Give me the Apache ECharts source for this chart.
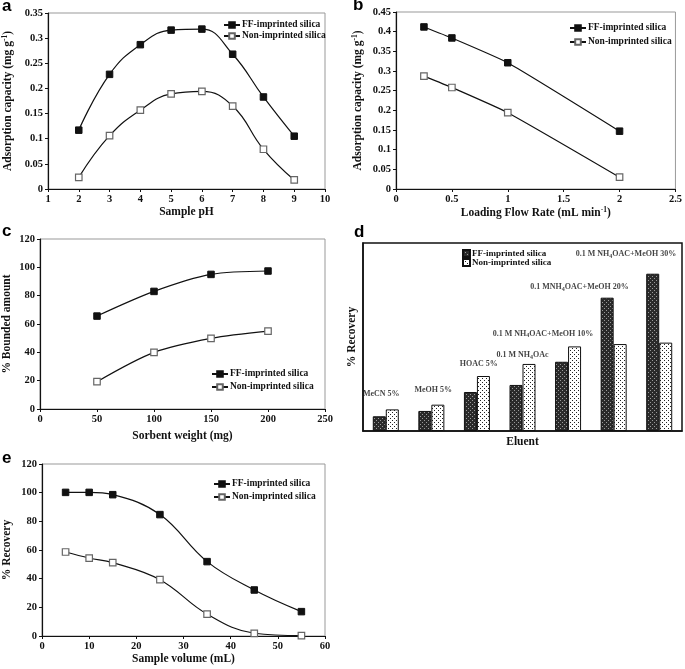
<!DOCTYPE html>
<html>
<head>
<meta charset="utf-8">
<script src="https://cdn.jsdelivr.net/npm/echarts@6/dist/echarts.min.js"></script>
<style>
html,body{margin:0;padding:0;background:#fff;}
#chart{width:685px;height:669px;}
</style>
</head>
<body>
<div id="chart"></div>
<script>
// ---- data ----
const seriesNames = ['FF-imprinted silica', 'Non-imprinted silica'];

const phX = [2, 3, 4, 5, 6, 7, 8, 9];
const phFF = [0.117, 0.228, 0.287, 0.316, 0.318, 0.268, 0.183, 0.105];
const phNon = [0.023, 0.106, 0.157, 0.189, 0.194, 0.165, 0.079, 0.018];

const flowX = [0.25, 0.5, 1, 2];
const flowFF = [0.412, 0.384, 0.321, 0.147];
const flowNon = [0.287, 0.258, 0.194, 0.030];

const sorbX = [50, 100, 150, 200];
const sorbFF = [65.6, 83, 95, 97.4];
const sorbNon = [19.3, 40, 49.9, 55];

const eluents = ['MeCN 5%', 'MeOH 5%', 'HOAC 5%', '0.1 M NH4OAc', '0.1 M NH4OAC+MeOH 10%', '0.1 M NH4OAC+MeOH 20%', '0.1 M NH4OAC+MeOH 30%'];
const eluFF = [9.4, 12.8, 24.9, 29.4, 44.2, 85.1, 100.4];
const eluNon = [13.8, 16.8, 35.1, 42.8, 54.0, 55.5, 56.4];
const eluLabels = ['MeCN 5%', 'MeOH 5%', 'HOAC 5%', '0.1 M NH{sub|4}OAc', '0.1 M NH{sub|4}OAC+MeOH 10%', '0.1 MNH{sub|4}OAC+MeOH 20%', '0.1 M NH{sub|4}OAC+MeOH 30%'];
const eluLabelX = [-0.1, 1.04, 2.04, 3.0, 3.45, 4.25, 5.27];
const eluLabelY = [23.8, 26.4, 42.6, 48.5, 62.1, 91.9, 113];

const volX = [5, 10, 15, 25, 35, 45, 55];
const volFF = [100.2, 100.2, 98.6, 84.7, 51.9, 32.1, 17];
const volNon = [58.6, 54.4, 51.2, 39.3, 15.3, 1.9, 0.2];

const phTicks = [1, 10, 1];
const flowTicks = [0, 2.5, 0.5];
const sorbTicks = [0, 250, 50];
const volTicks = [0, 60, 10];

// ---- styles ----
const SERIF = '"Liberation Serif", "Times New Roman", serif';
const SANS = '"Liberation Sans", Arial, sans-serif';

function makePattern(bg, fg, dots, size) {
  const c = document.createElement('canvas');
  c.width = size; c.height = size;
  const ctx = c.getContext('2d');
  ctx.fillStyle = bg; ctx.fillRect(0, 0, size, size);
  ctx.fillStyle = fg;
  dots.forEach(d => ctx.fillRect(d[0], d[1], 1, 1));
  return { image: c, repeat: 'repeat' };
}
const patFF = makePattern('#2a2a2a', '#9a9a9a', [[0, 0], [2, 2]], 4);
const patNon = makePattern('#ffffff', '#222222', [[0, 0], [2, 2]], 4);

const grids = [
  { left: 40, top: 13, width: 285, height: 176 },
  { left: 396, top: 12, width: 284, height: 177 },
  { left: 40, top: 239, width: 285, height: 170 },
  { left: 363, top: 243, width: 319, height: 188 },
  { left: 39, top: 464, width: 286, height: 172 }
];

const tickFont = { fontFamily: SERIF, fontWeight: 'bold', fontSize: 10.5, color: '#111' };
const nameFont = {
  fontFamily: SERIF, fontWeight: 'bold', fontSize: 11.5, color: '#111',
  rich: {
    sup: { fontFamily: SERIF, fontWeight: 'bold', fontSize: 7.5, color: '#111', padding: [0, 0, 6, 0] }
  }
};

function valAxis(gi, t, name, gap, extra) {
  return Object.assign({
    type: 'value', gridIndex: gi, min: t[0], max: t[1], interval: t[2],
    name: name, nameLocation: 'middle', nameGap: gap, nameTextStyle: nameFont,
    axisLine: { show: true, onZero: false, lineStyle: { color: '#111', width: 1.2 } },
    axisTick: { show: true, length: 3, lineStyle: { color: '#111' } },
    axisLabel: Object.assign({ margin: 5 }, tickFont),
    splitLine: { show: false }
  }, extra || {});
}

function lineSeries(name, xs, ys, gi, filled, smooth) {
  return {
    type: 'line', name: name, xAxisIndex: gi, yAxisIndex: gi,
    data: xs.map((x, i) => [x, ys[i]]),
    smooth: smooth, symbol: 'rect', symbolSize: 6.5,
    lineStyle: { color: '#111', width: 1.2 },
    itemStyle: filled ? { color: '#111', borderColor: '#111', borderWidth: 1 }
                      : { color: '#fff', borderColor: '#666', borderWidth: 1.2 },
    z: 3
  };
}

function legendFor(left, top, gap) {
  return {
    left: left, top: top, orient: 'vertical', itemWidth: 16, itemHeight: 7, itemGap: gap,
    data: seriesNames,
    textStyle: { fontFamily: SERIF, fontWeight: 'bold', fontSize: 9.5, color: '#111', padding: [0, 0, 0, -3] }
  };
}

const chart = echarts.init(document.getElementById('chart'), null, { renderer: 'canvas' });

const option = {
  backgroundColor: '#fff',
  animation: false,
  grid: grids.map((g, i) => Object.assign({ show: true, borderColor: i === 3 ? '#111' : '#999', borderWidth: i === 3 ? 1.5 : 1, containLabel: false }, g)),
  xAxis: [
    valAxis(0, phTicks, 'Sample pH', 16),
    valAxis(1, flowTicks, 'Loading Flow Rate (mL min{sup|-1})', 16),
    valAxis(2, sorbTicks, 'Sorbent weight (mg)', 21),
    {
      type: 'category', gridIndex: 3, data: eluents, name: 'Eluent', nameLocation: 'middle', nameGap: 5,
      nameTextStyle: nameFont, axisLine: { show: true, lineStyle: { color: '#111', width: 1.5 } },
      axisTick: { show: false }, axisLabel: { show: false }, splitLine: { show: false }
    },
    valAxis(4, volTicks, 'Sample volume (mL)', 11),
    { type: 'value', gridIndex: 3, min: -0.5, max: 6.5, show: false }
  ],
  yAxis: [
    valAxis(0, [0, 0.35, 0.05], 'Adsorption capacity (mg g{sup|-1})', 33),
    valAxis(1, [0, 0.45, 0.05], 'Adsorption capacity (mg g{sup|-1})', 31),
    valAxis(2, [0, 120, 20], '% Bounded amount', 27),
    {
      type: 'value', gridIndex: 3, min: 0, max: 120, name: '% Recovery', nameLocation: 'middle', nameGap: 5,
      nameTextStyle: nameFont, axisLine: { show: true, onZero: false, lineStyle: { color: '#111', width: 1.5 } },
      axisTick: { show: false }, axisLabel: { show: false }, splitLine: { show: false }
    },
    valAxis(4, [0, 120, 20], '% Recovery', 29)
  ],
  legend: [
    legendFor(218, 15, 1),
    legendFor(564, 18, 4),
    legendFor(206, 364, 3),
    {
      left: 457, top: 244, orient: 'vertical', itemWidth: 7, itemHeight: 7, itemGap: 0, icon: 'rect',
      data: ['dFF', 'dNon'],
      formatter: n => (n === 'dFF' ? seriesNames[0] : seriesNames[1]),
      textStyle: { fontFamily: SERIF, fontWeight: 'bold', fontSize: 9, color: '#111', padding: [0, 0, 0, -3] }
    },
    legendFor(208, 474, 3)
  ],
  series: [
    lineSeries(seriesNames[0], phX, phFF, 0, true, 0.45),
    lineSeries(seriesNames[1], phX, phNon, 0, false, 0.45),
    lineSeries(seriesNames[0], flowX, flowFF, 1, true, 0.15),
    lineSeries(seriesNames[1], flowX, flowNon, 1, false, 0.15),
    lineSeries(seriesNames[0], sorbX, sorbFF, 2, true, 0.3),
    lineSeries(seriesNames[1], sorbX, sorbNon, 2, false, 0.3),
    {
      type: 'bar', name: 'dFF', xAxisIndex: 3, yAxisIndex: 3, data: eluFF,
      barWidth: 13, barGap: '0%',
      itemStyle: { color: patFF, borderColor: '#111', borderWidth: 1 }
    },
    {
      type: 'bar', name: 'dNon', xAxisIndex: 3, yAxisIndex: 3, data: eluNon,
      barWidth: 13, barGap: '0%',
      itemStyle: { color: patNon, borderColor: '#111', borderWidth: 1 }
    },
    {
      type: 'scatter', name: 'labels', xAxisIndex: 5, yAxisIndex: 3, symbolSize: 0,
      data: eluLabelX.map((x, i) => ({ value: [x, eluLabelY[i]], name: eluLabels[i] })),
      label: {
        show: true, position: 'inside', formatter: p => p.name,
        fontFamily: SERIF, fontWeight: 'bold', fontSize: 8, color: '#111',
        rich: { sub: { fontFamily: SERIF, fontWeight: 'bold', fontSize: 6, color: '#111', padding: [4, 0, 0, 0] } }
      },
      silent: true
    },
    lineSeries(seriesNames[0], volX, volFF, 4, true, 0.4),
    lineSeries(seriesNames[1], volX, volNon, 4, false, 0.4)
  ],
  graphic: [
    { type: 'text', left: 2, top: -2, style: { text: 'a', font: 'bold 17px ' + SANS, fill: '#000' } },
    { type: 'text', left: 353, top: -3, style: { text: 'b', font: 'bold 17px ' + SANS, fill: '#000' } },
    { type: 'text', left: 2, top: 223, style: { text: 'c', font: 'bold 17px ' + SANS, fill: '#000' } },
    { type: 'text', left: 354, top: 224, style: { text: 'd', font: 'bold 17px ' + SANS, fill: '#000' } },
    { type: 'text', left: 2, top: 450, style: { text: 'e', font: 'bold 17px ' + SANS, fill: '#000' } }
  ]
};
chart.setOption(option);
</script>
</body>
</html>
